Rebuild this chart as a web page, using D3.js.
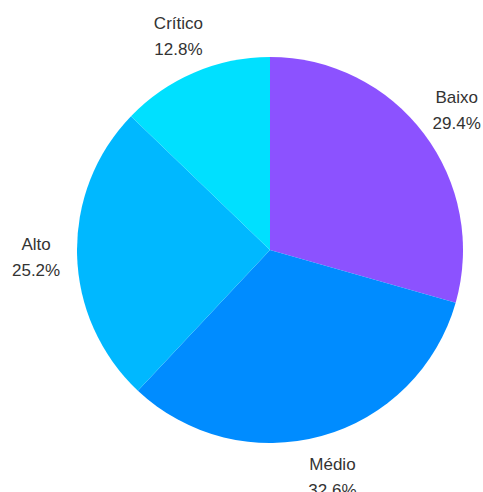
<!DOCTYPE html>
<html><head><meta charset="utf-8">
<script src="https://cdn.jsdelivr.net/npm/d3@7"></script>
<style>html,body{margin:0;padding:0;background:#fff;}svg{display:block;}</style>
</head><body>
<svg id="chart" width="483" height="492"></svg>
<script>
const categories = ["Baixo", "Médio", "Alto", "Crítico"];
const values = [29.4, 32.6, 25.2, 12.8];
const colors = ["#8c52ff", "#008cff", "#00b8ff", "#00e0ff"];

const svg = d3.select("#chart");
const cx = 270, cy = 250, r = 193, lr = 234;
const g = svg.append("g").attr("transform", `translate(${cx},${cy})`);
const data = categories.map((c, i) => ({ name: c, value: values[i], color: colors[i] }));
const pie = d3.pie().value(d => d.value).sort(null);
const arcs = pie(data);
const arc = d3.arc().innerRadius(0).outerRadius(r);
const labelArc = d3.arc().innerRadius(lr).outerRadius(lr);

g.selectAll("path").data(arcs).join("path")
  .attr("d", arc).attr("fill", d => d.data.color);

const lbl = g.selectAll("text").data(arcs).join("text")
  .attr("transform", d => `translate(${labelArc.centroid(d)})`)
  .attr("text-anchor", "middle")
  .attr("font-family", "'Liberation Sans', Arial, sans-serif")
  .attr("font-size", 17)
  .attr("fill", "#333");
lbl.append("tspan").attr("x", 0).attr("y", -6).text(d => d.data.name);
lbl.append("tspan").attr("x", 0).attr("y", 20).text(d => d.data.value.toFixed(1) + "%");
</script>
</body></html>
